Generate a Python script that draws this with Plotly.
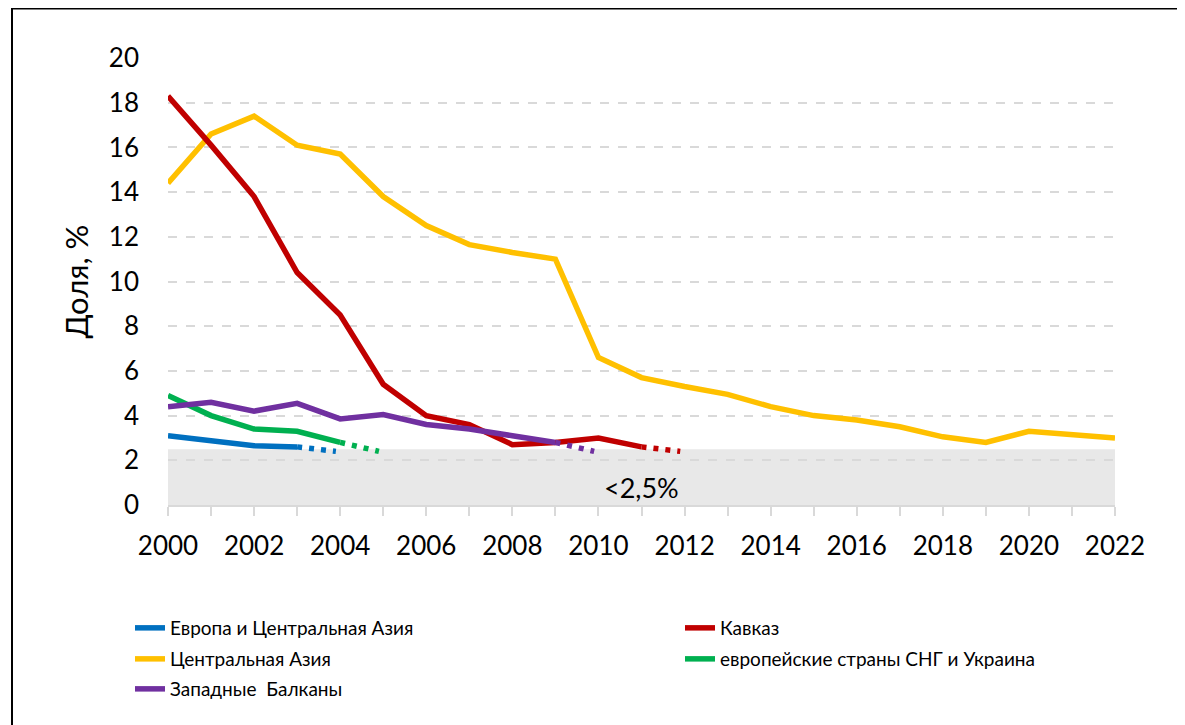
import plotly.graph_objects as go

years = list(range(2000, 2023))

# Solid series values
europe_ca_years = [2000, 2001, 2002, 2003]
europe_ca = [3.1, 2.85, 2.65, 2.6]

caucasus_years = list(range(2000, 2012))
caucasus = [18.3, 16.1, 13.8, 10.4, 8.5, 5.4, 4.0, 3.6, 2.7, 2.8, 3.0, 2.6]

central_asia_years = list(range(2000, 2023))
central_asia = [14.4, 16.6, 17.4, 16.1, 15.7, 13.8, 12.5, 11.65, 11.3, 11.0,
                6.6, 5.7, 5.3, 4.95, 4.4, 4.0, 3.8, 3.5, 3.05, 2.8, 3.3, 3.15, 3.0]

cis_europe_years = [2000, 2001, 2002, 2003, 2004]
cis_europe = [4.9, 4.0, 3.4, 3.3, 2.8]

balkans_years = list(range(2000, 2010))
balkans = [4.4, 4.6, 4.2, 4.55, 3.85, 4.05, 3.6, 3.4, 3.1, 2.8]

# Dotted continuations below the 2.5% threshold
europe_ca_dot_years = [2003, 2003.9]
europe_ca_dot = [2.6, 2.4]
caucasus_dot_years = [2011, 2011.9]
caucasus_dot = [2.6, 2.4]
cis_europe_dot_years = [2004, 2004.9]
cis_europe_dot = [2.8, 2.4]
balkans_dot_years = [2009, 2009.9]
balkans_dot = [2.8, 2.4]

threshold = 2.5
threshold_label = "<2,5%"

names = {
    "eca": "Европа и Центральная Азия",
    "cau": "Кавказ",
    "ca": "Центральная Азия",
    "cis": "европейские страны СНГ и Украина",
    "wb": "Западные  Балканы",
}
colors = {"eca": "#0070C0", "cau": "#C00000", "ca": "#FFC000",
          "cis": "#00B050", "wb": "#7030A0"}

FONT = "Lato, 'Open Sans', sans-serif"
LW = 5.5

# page body has an 8px margin; the figure is sized to fill the rest
OFF = 8
W, H = 1185 - OFF, 725 - OFF
L, R, T, B = 160, 70, 50, 220
pw, ph = W - L - R, H - T - B

def px_x(page_px):
    return (page_px - OFF - L) / pw

def px_y(page_py):
    return (H - B - (page_py - OFF)) / ph

# legend slots (page pixels of row centre / legend left)
legend_slots = {
    "eca": ("legend", 130, 628),
    "cau": ("legend2", 680, 628),
    "ca": ("legend3", 130, 659),
    "cis": ("legend4", 680, 659),
    "wb": ("legend5", 130, 689),
}

fig = go.Figure()

def add_series(key, xs, ys):
    fig.add_trace(go.Scatter(x=xs, y=ys, mode="lines", name=names[key],
                             line=dict(color=colors[key], width=LW),
                             legend=legend_slots[key][0], hoverinfo="skip"))

def add_dots(key, xs, ys):
    fig.add_trace(go.Scatter(x=xs, y=ys, mode="lines", showlegend=False,
                             line=dict(color=colors[key], width=LW, dash="5px,7px"),
                             hoverinfo="skip"))

add_series("ca", central_asia_years, central_asia)
add_series("eca", europe_ca_years, europe_ca)
add_dots("eca", europe_ca_dot_years, europe_ca_dot)
add_series("cis", cis_europe_years, cis_europe)
add_dots("cis", cis_europe_dot_years, cis_europe_dot)
add_series("cau", caucasus_years, caucasus)
add_dots("cau", caucasus_dot_years, caucasus_dot)
add_series("wb", balkans_years, balkans)
add_dots("wb", balkans_dot_years, balkans_dot)

# grey band below threshold
fig.add_shape(type="rect", xref="x", yref="y", x0=years[0], x1=years[-1],
              y0=0, y1=threshold, fillcolor="#E8E8E8", line=dict(width=0),
              layer="below")
fig.add_annotation(x=2011, y=0.8, xref="x", yref="y", text=threshold_label,
                   showarrow=False, font=dict(family=FONT, size=27, color="#000"))

# outer frame lines (left and top)
fig.add_shape(type="line", xref="paper", yref="paper",
              x0=px_x(12), x1=px_x(12), y0=px_y(8.5), y1=px_y(740),
              line=dict(color="black", width=2))
fig.add_shape(type="line", xref="paper", yref="paper",
              x0=px_x(11), x1=px_x(1200), y0=px_y(8.5), y1=px_y(8.5),
              line=dict(color="black", width=2))

tickvals = years
ticktext = [str(y) if y % 2 == 0 else "" for y in years]

legend_layout = {}
for key, (lname, lx, ly) in legend_slots.items():
    legend_layout[lname] = dict(
        orientation="h", x=px_x(lx), xanchor="left", y=px_y(ly), yanchor="middle",
        font=dict(family=FONT, size=19, color="black"),
        bgcolor="rgba(0,0,0,0)", borderwidth=0)

fig.update_layout(
    width=W, height=H,
    margin=dict(l=L, r=R, t=T, b=B),
    paper_bgcolor="white", plot_bgcolor="white",
    font=dict(family=FONT, color="black"),
    showlegend=True,
    xaxis=dict(range=[years[0], years[-1]], tickvals=tickvals, ticktext=ticktext,
               showgrid=False, zeroline=False, showline=True,
               linecolor="#D9D9D9", linewidth=1.5,
               ticks="outside", ticklen=9, tickcolor="#D9D9D9", tickwidth=1.5,
               ticklabelstandoff=8,
               tickfont=dict(family=FONT, size=26, color="black")),
    yaxis=dict(range=[0, 20], tick0=0, dtick=2, showgrid=True,
               gridcolor="#D9D9D9", griddash="dash", gridwidth=1.5,
               zeroline=False, showline=False, ticks="",
               ticklabelstandoff=28,
               tickfont=dict(family=FONT, size=26, color="black"),
               title=dict(text="Доля, %", standoff=10,
                          font=dict(family=FONT, size=31, color="black"))),
    **legend_layout,
)

fig.write_html("out.html")
